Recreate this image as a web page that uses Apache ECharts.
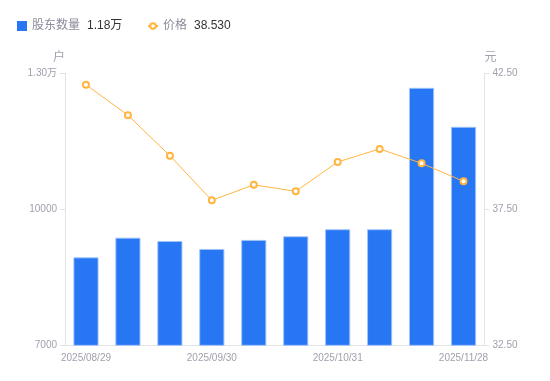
<!DOCTYPE html>
<html>
<head>
<meta charset="utf-8">
<script src="https://cdn.jsdelivr.net/npm/echarts@6/dist/echarts.min.js"></script>
<style>
html,body{margin:0;padding:0;background:#fff;}
#c{width:550px;height:381px;}
</style>
</head>
<body>
<div id="c"></div>
<script>
var categories = ['2025/08/29','2025/09/10','2025/09/19','2025/09/30','2025/10/10','2025/10/20','2025/10/31','2025/11/10','2025/11/20','2025/11/28'];
var holders = [8940, 9375, 9300, 9125, 9325, 9405, 9560, 9560, 12680, 11820];
var prices = [42.08, 40.96, 39.47, 37.83, 38.40, 38.16, 39.24, 39.72, 39.19, 38.53];
var leftTicks = {min: 7000, max: 13000, interval: 3000};
var rightTicks = {min: 32.5, max: 42.5, interval: 5};

var font = '"Liberation Sans", Arial, "Noto Sans CJK SC", sans-serif';
var axisColor = '#e3e3e6';
var labelColor = '#a0a0ad';

function legendFormatter(name) {
  if (name === '股东数量') {
    return '{n|股东数量}{v|' + (holders[holders.length - 1] / 10000).toFixed(2) + '万}';
  }
  return '{n|价格}{v|' + prices[prices.length - 1].toFixed(3) + '}';
}
var legendText = {
  fontFamily: font,
  rich: {
    n: {color: '#8c8c9a', fontSize: 12, fontFamily: font},
    v: {color: '#333333', fontSize: 12, padding: [0, 0, 0, 7], fontFamily: font}
  }
};

var chart = echarts.init(document.getElementById('c'));
chart.setOption({
  animation: false,
  textStyle: {fontFamily: font},
  legend: [{
    left: 12, top: 15,
    itemWidth: 10, itemHeight: 10,
    data: [{name: '股东数量', icon: 'rect'}],
    itemStyle: {borderWidth: 0},
    formatter: legendFormatter,
    textStyle: legendText
  }, {
    left: 142, top: 15,
    itemWidth: 10, itemHeight: 7,
    data: [{name: '价格'}],
    formatter: legendFormatter,
    textStyle: legendText
  }],
  grid: {left: 65, right: 65.5, top: 73.3, bottom: 35.7, containLabel: false},
  xAxis: {
    type: 'category',
    data: categories,
    axisLine: {lineStyle: {color: axisColor}},
    axisTick: {show: false},
    axisLabel: {color: labelColor, fontSize: 10, interval: 2, margin: 8, fontFamily: font},
    splitLine: {show: false}
  },
  yAxis: [{
    type: 'value',
    name: '户',
    nameGap: 10,
    nameTextStyle: {color: labelColor, fontSize: 12, align: 'right', fontFamily: font},
    min: leftTicks.min, max: leftTicks.max, interval: leftTicks.interval,
    axisLine: {show: true, lineStyle: {color: axisColor}},
    axisTick: {show: true, length: 5, lineStyle: {color: axisColor}},
    splitLine: {show: false},
    axisLabel: {
      color: labelColor, fontSize: 10, margin: 8, fontFamily: font,
      formatter: function (v) { return v > 10000 ? (v / 10000).toFixed(2) + '万' : String(v); }
    }
  }, {
    type: 'value',
    name: '元',
    nameGap: 10,
    nameTextStyle: {color: labelColor, fontSize: 12, align: 'left', fontFamily: font},
    min: rightTicks.min, max: rightTicks.max, interval: rightTicks.interval,
    axisLine: {show: true, lineStyle: {color: axisColor}},
    axisTick: {show: true, length: 5, lineStyle: {color: axisColor}},
    splitLine: {show: false},
    axisLabel: {
      color: labelColor, fontSize: 10, margin: 8, fontFamily: font,
      formatter: function (v) { return v.toFixed(2); }
    }
  }],
  series: [{
    name: '股东数量',
    type: 'bar',
    yAxisIndex: 0,
    data: holders,
    barWidth: '60%',
    itemStyle: {color: '#2777f5', borderColor: 'rgba(160,195,250,0.9)', borderWidth: 1}
  }, {
    name: '价格',
    type: 'line',
    yAxisIndex: 1,
    data: prices,
    symbol: 'emptyCircle',
    symbolSize: 6,
    lineStyle: {color: '#ffb53f', width: 1},
    itemStyle: {color: '#ffb53f', borderWidth: 2}
  }]
});
</script>
</body>
</html>
